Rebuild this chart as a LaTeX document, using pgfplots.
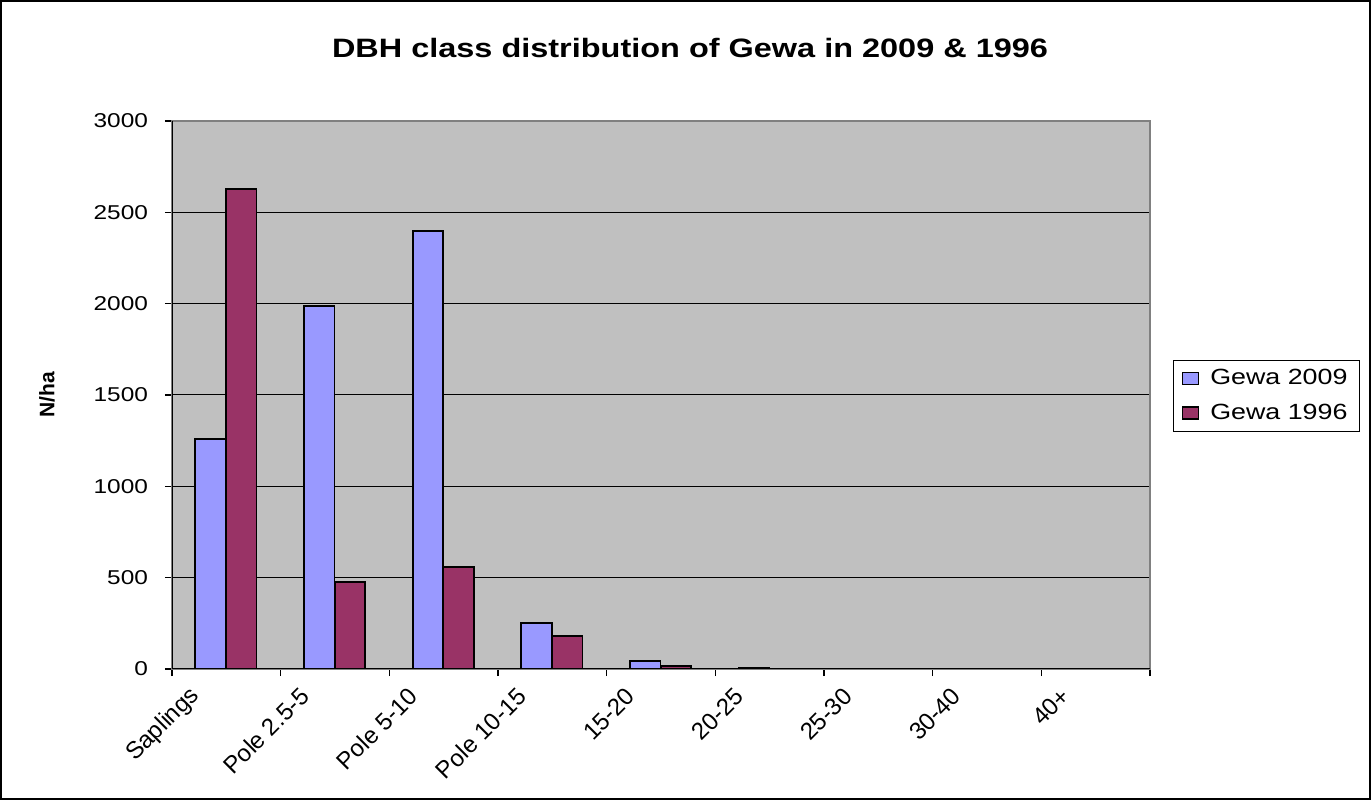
\documentclass[border=0pt]{standalone}
\usepackage{pgfplots}
\pgfplotsset{compat=1.18}
\usepackage{fontspec}
\setmainfont{Liberation Sans}[FakeStretch=1.22]
\newfontfamily\plainfont{Liberation Sans}
\definecolor{c2009}{HTML}{9999FF}
\definecolor{c1996}{HTML}{993366}
\definecolor{plotbg}{HTML}{C0C0C0}
\definecolor{frameg}{HTML}{808080}
\begin{document}
\begin{tikzpicture}
\useasboundingbox (0,0) rectangle (685.5bp,400bp);
\draw[line width=1bp] (0.5bp,0.5bp) rectangle (685bp,399.5bp);
\node[font=\bfseries\fontsize{13.3bp}{15bp}\selectfont] at (345bp,376bp) {DBH class distribution of Gewa in 2009 \& 1996};
\begin{axis}[
  at={(86bp,65.5bp)}, anchor=south west,
  scale only axis, width=489bp, height=274bp,
  xmin=-0.5, xmax=8.5, ymin=0, ymax=3000,
  axis background/.style={fill=plotbg},
  axis line style={frameg, line width=1bp},
  ybar, bar width=0.28,
  xtick={0,...,8},
  xticklabels={Saplings,Pole 2.5-5,Pole 5-10,Pole 10-15,15-20,20-25,25-30,30-40,40+},
  major x tick style={draw=none},
  minor xtick={-0.5,0.5,...,8.5},
  minor x tick style={black, line width=0.6bp},
  minor tick length=3.5bp,
  ytick={0,500,...,3000},
  major tick length=3.5bp,
  y tick style={black, line width=0.6bp},
  tick align=outside,
  xtick pos=bottom, ytick pos=left,
  ymajorgrids, grid style={black, line width=0.5bp},
  /pgf/number format/assume math mode=true,
  /pgf/number format/1000 sep={},
  tick label style={font=\fontsize{10bp}{12bp}\selectfont},
  xticklabel style={font=\plainfont\fontsize{12bp}{14bp}\selectfont, rotate=45, anchor=east, xshift=-13bp, yshift=5bp},
  yticklabel style={xshift=-5bp},
  ylabel={N/ha},
  ylabel style={font=\plainfont\bfseries\fontsize{10.5bp}{12bp}\selectfont, at={(-62.5bp,137bp)}, anchor=center, rotate=0},
  legend style={at={(1.0235,0.5639)}, anchor=north west, draw=black, line width=0.6bp,
    font=\fontsize{11bp}{13bp}\selectfont, row sep=4bp, inner xsep=4bp, inner ysep=2.5bp},
  legend cell align=left,
  legend image code/.code={\draw[#1, line width=0.7bp] (0bp,-3bp) rectangle (8bp,3bp);
    \path[draw=none, fill=none] (0bp,0bp) -- (12bp,0bp);},
]
\addplot[fill=c2009, draw=black, line width=0.9bp, bar shift=-0.145] coordinates {
  (0,1259) (1,1987) (2,2397) (3,253) (4,42) (5,4) (6,0) (7,0) (8,0)};
\addlegendentry{Gewa 2009}
\addplot[fill=c1996, draw=black, line width=0.9bp, bar shift=0.137] coordinates {
  (0,2626) (1,476) (2,558) (3,179) (4,16) (5,0) (6,0) (7,0) (8,0)};
\addlegendentry{Gewa 1996}
\draw[black, line width=1bp] (rel axis cs:0,1) -- (rel axis cs:0,0) -- (rel axis cs:1,0);
\end{axis}
\end{tikzpicture}
\end{document}
